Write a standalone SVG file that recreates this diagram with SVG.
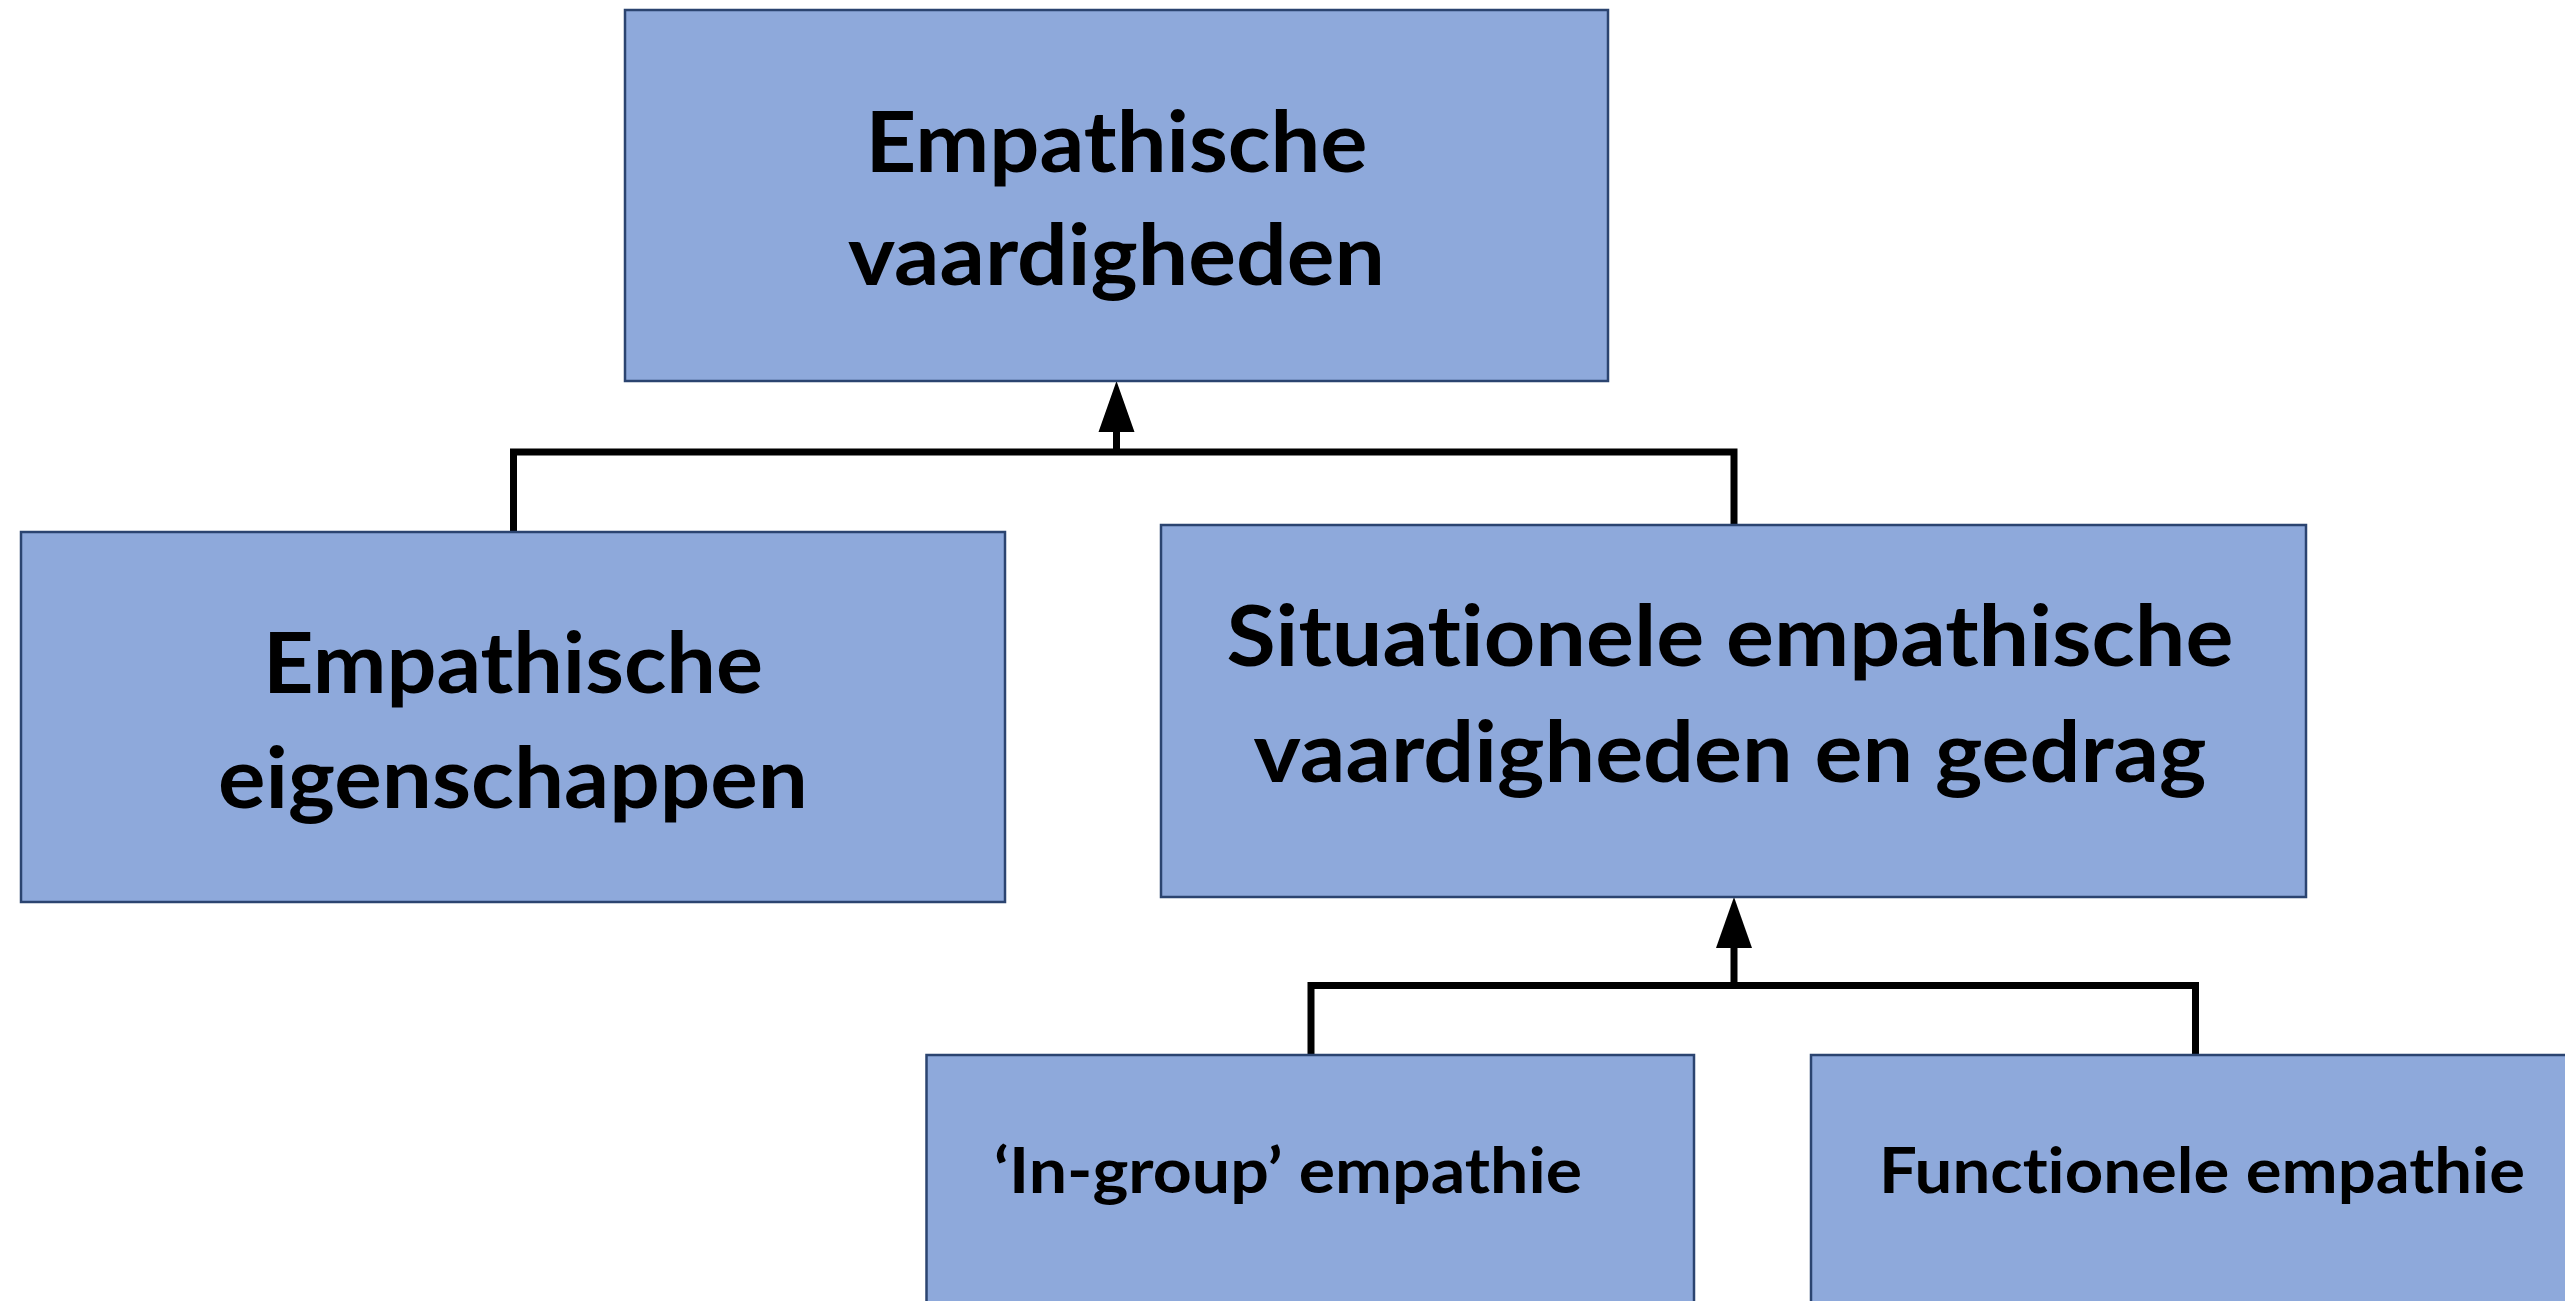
<svg xmlns="http://www.w3.org/2000/svg" width="2565" height="1301" viewBox="0 0 2565 1301">
<style>
.box{fill:#8EA9DB;stroke:#2B4470;stroke-width:2.5}
.t{font-family:Lato,"Liberation Sans",Arial,sans-serif;font-weight:bold;fill:#000;text-anchor:middle;font-variant-ligatures:none;font-feature-settings:"liga" 0,"clig" 0}
.big{font-size:84px}
.small{font-size:63px}
.con{fill:none;stroke:#000;stroke-width:7;stroke-linejoin:miter;stroke-linecap:butt}
</style>
<defs>
<marker id="ah" markerUnits="userSpaceOnUse" markerWidth="52" markerHeight="38" refX="0" refY="18" orient="auto" viewBox="0 0 52 36">
<path d="M0,0 L51,18 L0,36 Z" fill="#000"/>
</marker>
</defs>
<rect width="2565" height="1301" fill="#fff"/>
<g id="connectors">
<path class="con" d="M513.5,532 V452 H1734 V525"/>
<path class="con" d="M1116.5,452 V432" marker-end="url(#ah)"/>
<path class="con" d="M1311,1055 V985.5 H2195.5 V1055"/>
<path class="con" d="M1734,985.5 V948" marker-end="url(#ah)"/>
</g>
<g id="node-vaardigheden">
<rect class="box" x="625" y="10" width="983" height="371"/>
<text class="t big" x="1116.5" y="172" textLength="502" lengthAdjust="spacingAndGlyphs">Empathische</text>
<text class="t big" x="1116.5" y="285" textLength="537" lengthAdjust="spacingAndGlyphs">vaardigheden</text>
</g>
<g id="node-eigenschappen">
<rect class="box" x="21" y="532" width="984" height="370"/>
<text class="t big" x="513" y="693" textLength="500" lengthAdjust="spacingAndGlyphs">Empathische</text>
<text class="t big" x="513" y="808" textLength="590" lengthAdjust="spacingAndGlyphs">eigenschappen</text>
</g>
<g id="node-situationeel">
<rect class="box" x="1161" y="525" width="1145" height="372"/>
<text class="t big" x="1730" y="666" textLength="1007" lengthAdjust="spacingAndGlyphs">Situationele empathische</text>
<text class="t big" x="1730" y="782" textLength="953" lengthAdjust="spacingAndGlyphs">vaardigheden en gedrag</text>
</g>
<g id="node-ingroup">
<rect class="box" x="926.5" y="1055" width="767.5" height="260"/>
<text class="t small" x="1288" y="1193" textLength="588" lengthAdjust="spacingAndGlyphs">‘In-group’ empathie</text>
</g>
<g id="node-functioneel">
<rect class="box" x="1811" y="1055" width="800" height="260"/>
<text class="t small" x="2202" y="1193" textLength="646" lengthAdjust="spacingAndGlyphs">Functionele empathie</text>
</g>
</svg>
